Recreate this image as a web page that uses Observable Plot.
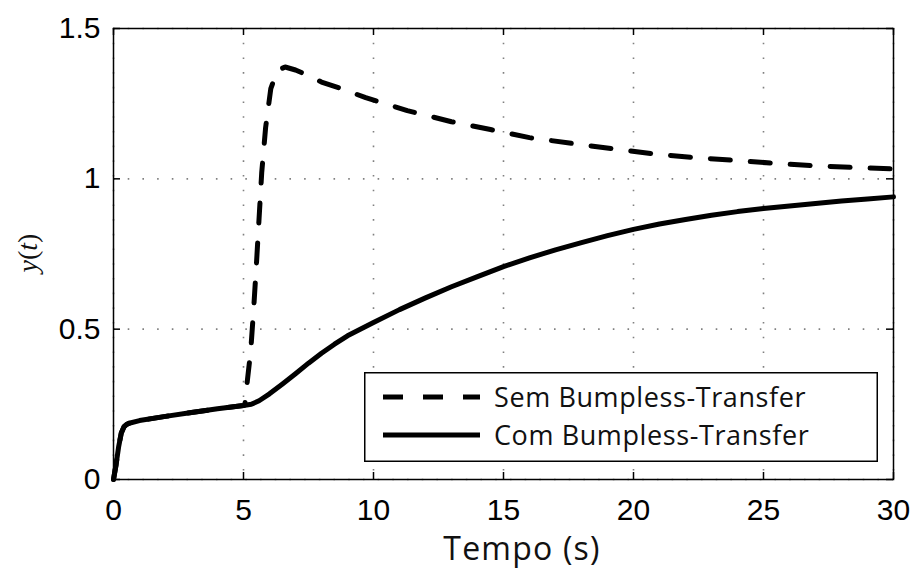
<!DOCTYPE html>
<html><head><meta charset="utf-8">
<script src="https://cdn.jsdelivr.net/npm/d3@7"></script>
<script src="https://cdn.jsdelivr.net/npm/@observablehq/plot@0.6"></script>
<style>
body{margin:0;background:#fff;}
#wrap{position:relative;width:915px;height:570px;overflow:hidden;background:#fff;}
#wrap svg{display:block;}
</style></head><body><div id="wrap"></div>
<script>
// ---- data ----
const tSolid = [0,0.1,0.2,0.3,0.4,0.5,0.6,1,2,3,4,5,5.3,5.6,6,6.5,7,7.5,8,8.5,9,10,11,12,13,14,15,16,17,18,19,20,21,22,23,24,25,26,27,28,29,30];
const ySolid = [0,0.05,0.11,0.155,0.175,0.183,0.187,0.196,0.21,0.223,0.235,0.246,0.25,0.262,0.285,0.318,0.352,0.387,0.42,0.45,0.478,0.522,0.565,0.604,0.641,0.675,0.708,0.737,0.764,0.788,0.811,0.832,0.85,0.865,0.879,0.891,0.901,0.91,0.918,0.926,0.933,0.94];
const tDashed = [0,0.1,0.2,0.3,0.4,0.5,0.6,1,2,3,4,5,5.05,5.15,5.28,5.4,5.5,5.6,5.7,5.85,6.05,6.3,6.6,7,7.5,8,8.7,9.7,11.3,13,14.5,16,17.7,19.2,20.8,22.4,24,25.5,27,28.7,30];
const yDashed = [0,0.05,0.11,0.155,0.175,0.183,0.187,0.196,0.21,0.223,0.235,0.246,0.248,0.33,0.43,0.58,0.72,0.87,1.02,1.17,1.3,1.36,1.372,1.362,1.343,1.322,1.302,1.27,1.227,1.19,1.164,1.137,1.117,1.1,1.083,1.07,1.061,1.051,1.043,1.037,1.033];
const xTicks = [0,5,10,15,20,25,30];
const yTicks = [0,0.5,1,1.5];
const xTickLabels = ["0","5","10","15","20","25","30"];
const yTickLabels = ["0","0.5","1","1.5"];
const seriesNames = ["Sem Bumpless-Transfer","Com Bumpless-Transfer"];
const xLabel = "Tempo (s)";

// ---- build ----
const solid = tSolid.map((t,i)=>({t, y:ySolid[i]}));
const dashed = tDashed.map((t,i)=>({t, y:yDashed[i]}));

const W=915, H=570, mL=113, mR=22, mT=28, mB=91;
const innerW=W-mL-mR, innerH=H-mT-mB, tk=7;
const gridStyle = {stroke:"#808080", strokeOpacity:1, strokeWidth:1.6, strokeDasharray:"1.6,13.1"};

const chart = Plot.plot({
  width:W, height:H, marginLeft:mL, marginRight:mR, marginTop:mT, marginBottom:mB,
  x:{domain:[0,30]}, y:{domain:[0,1.5]},
  style:{background:"white", color:"black", fontFamily:"'Liberation Sans', Arial, sans-serif"},
  marks:[
    Plot.gridX(xTicks, gridStyle),
    Plot.gridY(yTicks, gridStyle),
    Plot.tickX(xTicks, {x:d=>d, insetTop:innerH-tk, stroke:"black", strokeWidth:1.5}),
    Plot.tickX(xTicks, {x:d=>d, insetBottom:innerH-tk, stroke:"black", strokeWidth:1.5}),
    Plot.tickY(yTicks, {y:d=>d, insetRight:innerW-tk, stroke:"black", strokeWidth:1.5}),
    Plot.tickY(yTicks, {y:d=>d, insetLeft:innerW-tk, stroke:"black", strokeWidth:1.5}),
    Plot.axisX({ticks:xTicks, tickSize:0, tickPadding:19, fontSize:30, label:null,
      tickFormat:d=>xTickLabels[xTicks.indexOf(d)]}),
    Plot.axisY({ticks:yTicks, tickSize:0, tickPadding:13, fontSize:30, label:null,
      tickFormat:d=>yTickLabels[yTicks.indexOf(d)]}),
    Plot.line(dashed, {x:"t", y:"y", stroke:"black", strokeWidth:5, strokeDasharray:"20,20", strokeLinejoin:"round"}),
    Plot.line(solid, {x:"t", y:"y", stroke:"black", strokeWidth:5, strokeLinejoin:"round"}),
    Plot.frame({stroke:"black", strokeWidth:1.5})
  ]
});
const wrap = document.getElementById("wrap");
wrap.appendChild(chart);
const svg = d3.select(chart);

// x label
svg.append("text").attr("x",522).attr("y",560).attr("text-anchor","middle")
  .attr("font-family","'Open Sans', sans-serif").attr("font-size",32).attr("letter-spacing",1.2)
  .attr("fill","#111").text(xLabel);
// y label (italic y and t, upright parentheses)
const yl = svg.append("text").attr("transform","translate(37,253) rotate(-90)").attr("text-anchor","middle")
  .attr("font-family","'Liberation Serif','DejaVu Serif',serif").attr("font-size",28).attr("fill","#111");
yl.append("tspan").attr("font-style","italic").text("y");
yl.append("tspan").text("(");
yl.append("tspan").attr("font-style","italic").text("t");
yl.append("tspan").text(")");

// legend
const lx=364, ly=372, lw=514, lh=90;
const leg = svg.append("g").attr("transform",`translate(${lx},${ly})`);
leg.append("rect").attr("x",0.75).attr("y",0.75).attr("width",lw-1.5).attr("height",lh-1.5)
  .attr("fill","white").attr("stroke","black").attr("stroke-width",1.5);
const rowsY=[25,63];
const dashes=["20,20",null];
seriesNames.forEach((name,i)=>{
  const ln = leg.append("line").attr("x1",19).attr("x2",116).attr("y1",rowsY[i]).attr("y2",rowsY[i])
    .attr("stroke","black").attr("stroke-width",5);
  if (dashes[i]) ln.attr("stroke-dasharray",dashes[i]);
  leg.append("text").attr("x",130).attr("y",rowsY[i]).attr("dy","0.36em").attr("text-anchor","start")
    .attr("font-family","'Open Sans', sans-serif").attr("font-size",27).attr("letter-spacing",0.6)
    .attr("fill","#111").text(name);
});
</script></body></html>
